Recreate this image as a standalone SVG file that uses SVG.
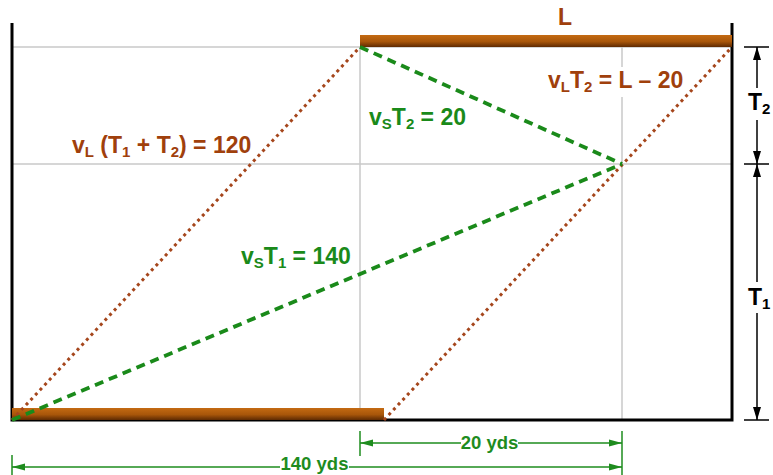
<svg xmlns="http://www.w3.org/2000/svg" width="773" height="475" viewBox="0 0 773 475">
<defs>
<linearGradient id="bar" x1="0" y1="0" x2="0" y2="1">
<stop offset="0" stop-color="#C46A12"/>
<stop offset="0.55" stop-color="#A8560A"/>
<stop offset="1" stop-color="#5E2A02"/>
</linearGradient>
<marker id="ak" markerUnits="userSpaceOnUse" markerWidth="14" markerHeight="10" refX="13" refY="5" orient="auto">
<path d="M0,1 L13,5 L0,9 Z" fill="#000"/>
</marker>
<marker id="ag" markerUnits="userSpaceOnUse" markerWidth="14" markerHeight="10" refX="13" refY="5" orient="auto">
<path d="M0,1.5 L13,5 L0,8.5 Z" fill="#1E8C1E"/>
</marker>
<style>
.grid{stroke:#C8C8C8;stroke-width:1.5;fill:none}
.frame{stroke:#000;stroke-width:3;fill:none}
.dot{stroke:#A5461C;stroke-width:3;stroke-dasharray:3 3.8;fill:none}
.dash{stroke:#1A8A1A;stroke-width:3.8;stroke-dasharray:9 6;fill:none}
.dimk{stroke:#000;stroke-width:1.5;fill:none}
.dimg{stroke:#1E8C1E;stroke-width:1.5;fill:none}
.t{font-family:"Liberation Sans",Arial,sans-serif;font-weight:bold}
.br{fill:#A0400C;font-size:23px}
.gr{fill:#1A8A1A;font-size:23px}
.bk{fill:#000;font-size:23px}
.gd{fill:#1E8C1E;font-size:18.5px}
.sub{font-size:15px}
</style>
</defs>

<g id="grid">
<line class="grid" x1="12" y1="47" x2="732" y2="47"/>
<line class="grid" x1="12" y1="164" x2="732" y2="164"/>
<line class="grid" x1="360" y1="47" x2="360" y2="420"/>
<line class="grid" x1="622" y1="47" x2="622" y2="67"/>
<line class="grid" x1="622" y1="97" x2="622" y2="420"/>
</g>

<g id="frame">
<path class="frame" d="M12,23 V420 H732 V23"/>
</g>

<g id="bar-top">
<rect x="360" y="35" width="372" height="12" fill="url(#bar)"/>
<text class="t br" x="565" y="25" text-anchor="middle">L</text>
</g>
<g id="bar-bottom">
<rect x="12" y="408" width="372" height="12" fill="url(#bar)"/>
</g>

<g id="connectors">
<line class="dot" x1="12" y1="420" x2="360" y2="47"/>
<line class="dot" x1="384" y1="420" x2="732" y2="47"/>
<line class="dash" x1="12" y1="420" x2="622" y2="164"/>
<line class="dash" x1="360" y1="47" x2="622" y2="164"/>
</g>

<g id="labels">
<text class="t br" x="72" y="153">v<tspan class="sub" dy="4">L</tspan><tspan dy="-4"> (T</tspan><tspan class="sub" dy="4">1</tspan><tspan dy="-4"> + T</tspan><tspan class="sub" dy="4">2</tspan><tspan dy="-4">) = 120</tspan></text>
<text class="t br" x="548" y="88">v<tspan class="sub" dy="4">L</tspan><tspan dy="-4">T</tspan><tspan class="sub" dy="4">2</tspan><tspan dy="-4"> = L – 20</tspan></text>
<text class="t gr" x="369" y="125">v<tspan class="sub" dy="4">S</tspan><tspan dy="-4">T</tspan><tspan class="sub" dy="4">2</tspan><tspan dy="-4"> = 20</tspan></text>
<text class="t gr" x="241" y="264">v<tspan class="sub" dy="4">S</tspan><tspan dy="-4">T</tspan><tspan class="sub" dy="4">1</tspan><tspan dy="-4"> = 140</tspan></text>
</g>

<g id="dim-T2">
<line class="dimk" x1="744" y1="47" x2="769" y2="47"/>
<line class="dimk" x1="744" y1="164" x2="769" y2="164"/>
<line class="dimk" x1="757" y1="88" x2="757" y2="47" marker-end="url(#ak)"/>
<line class="dimk" x1="757" y1="120" x2="757" y2="164" marker-end="url(#ak)"/>
<text class="t bk" x="748" y="110">T<tspan class="sub" dy="4">2</tspan></text>
</g>

<g id="dim-T1">
<line class="dimk" x1="744" y1="420" x2="769" y2="420"/>
<line class="dimk" x1="757" y1="282" x2="757" y2="164" marker-end="url(#ak)"/>
<line class="dimk" x1="757" y1="313" x2="757" y2="420" marker-end="url(#ak)"/>
<text class="t bk" x="748" y="305">T<tspan class="sub" dy="4">1</tspan></text>
</g>

<g id="dim-20">
<line class="dimg" x1="360" y1="431" x2="360" y2="456"/>
<line class="dimg" x1="622" y1="431" x2="622" y2="475"/>
<line class="dimg" x1="461" y1="443" x2="360" y2="443" marker-end="url(#ag)"/>
<line class="dimg" x1="518" y1="443" x2="622" y2="443" marker-end="url(#ag)"/>
<text class="t gd" x="489.5" y="449" text-anchor="middle">20 yds</text>
</g>

<g id="dim-140">
<line class="dimg" x1="12" y1="455" x2="12" y2="475"/>
<line class="dimg" x1="280" y1="467" x2="12" y2="467" marker-end="url(#ag)"/>
<line class="dimg" x1="349" y1="467" x2="622" y2="467" marker-end="url(#ag)"/>
<text class="t gd" x="314.5" y="470" text-anchor="middle">140 yds</text>
</g>
</svg>
